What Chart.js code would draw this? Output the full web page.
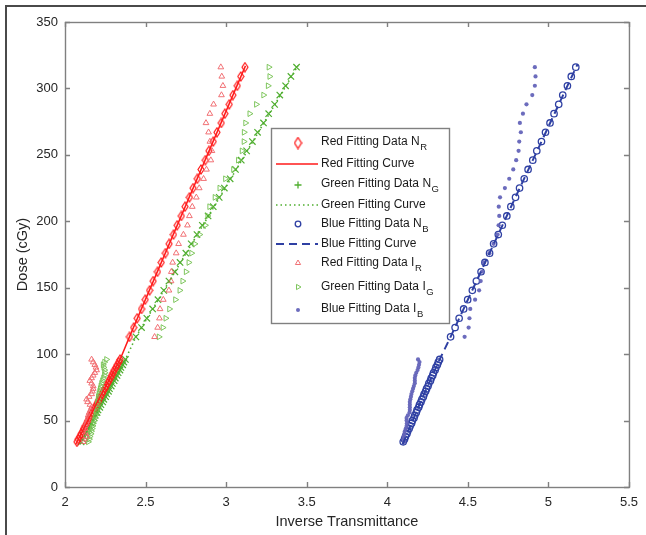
<!DOCTYPE html>
<html>
<head>
<meta charset="utf-8">
<script src="https://cdn.jsdelivr.net/npm/chart.js@4.4.1/dist/chart.umd.min.js"></script>
<style>
  html, body { margin: 0; padding: 0; background: #fff; }
  #wrap { position: relative; width: 646px; height: 535px; overflow: hidden; }
  #frame { position: absolute; left: 5px; top: 5px; width: 700px; height: 600px;
           border-top: 2px solid #4a4a4a; border-left: 2px solid #4a4a4a; pointer-events: none; }
  canvas { position: absolute; left: 0; top: 0; }
</style>
</head>
<body>
<div id="wrap">
  <canvas id="c" width="646" height="535"></canvas>
  <div id="frame"></div>
</div>
<script>
// Dose levels (cGy): fine steps in the low range, coarser steps above.
const dose = [34, 36, 38, 40, 42, 44, 46, 48, 50, 52, 54, 56, 58, 60, 62, 64,
  66, 68, 70, 72, 74, 76, 78, 80, 82, 84, 86, 88, 90, 92, 94, 96,
  113, 120, 127, 134, 141, 148, 155, 162, 169, 176, 183, 190, 197, 204, 211,
  218, 225, 232, 239, 246, 253, 260, 267, 274, 281, 288, 295, 302, 309, 316];

// Inverse transmittance, N films
const redN = [2.074, 2.082, 2.092, 2.099, 2.110, 2.116, 2.127, 2.134, 2.144, 2.151, 2.161, 2.168, 2.179, 2.185, 2.196, 2.203,
  2.213, 2.220, 2.231, 2.237, 2.248, 2.255, 2.265, 2.272, 2.283, 2.289, 2.300, 2.306, 2.317, 2.324, 2.334, 2.342,
  2.400, 2.426, 2.448, 2.475, 2.498, 2.525, 2.547, 2.574, 2.597, 2.623, 2.646, 2.673, 2.696, 2.722, 2.745,
  2.772, 2.795, 2.821, 2.844, 2.871, 2.893, 2.920, 2.943, 2.970, 2.992, 3.019, 3.042, 3.069, 3.091, 3.117];
const greenN = [2.100, 2.110, 2.117, 2.128, 2.134, 2.145, 2.152, 2.163, 2.170, 2.181, 2.188, 2.199, 2.205, 2.216, 2.223, 2.234,
  2.241, 2.252, 2.259, 2.270, 2.276, 2.287, 2.294, 2.305, 2.312, 2.323, 2.330, 2.341, 2.347, 2.358, 2.365, 2.375,
  2.440, 2.475, 2.508, 2.544, 2.577, 2.613, 2.645, 2.682, 2.714, 2.750, 2.783, 2.819, 2.852, 2.888, 2.920,
  2.957, 2.989, 3.025, 3.058, 3.094, 3.127, 3.163, 3.195, 3.232, 3.264, 3.301, 3.333, 3.369, 3.402, 3.437];
const blueN = [4.099, 4.107, 4.113, 4.122, 4.127, 4.136, 4.142, 4.151, 4.156, 4.166, 4.171, 4.180, 4.185, 4.195, 4.200, 4.209,
  4.215, 4.224, 4.229, 4.238, 4.244, 4.253, 4.258, 4.268, 4.273, 4.282, 4.287, 4.297, 4.302, 4.311, 4.317, 4.325,
  4.393, 4.421, 4.446, 4.474, 4.499, 4.528, 4.553, 4.582, 4.606, 4.635, 4.660, 4.689, 4.714, 4.742, 4.767,
  4.796, 4.821, 4.850, 4.874, 4.903, 4.928, 4.957, 4.982, 5.010, 5.035, 5.064, 5.089, 5.118, 5.142, 5.170];

// Inverse transmittance, I films
const redI = [2.113, 2.120, 2.134, 2.130, 2.123, 2.125, 2.130, 2.134, 2.140, 2.142, 2.144, 2.150, 2.158, 2.165, 2.155, 2.140,
  2.134, 2.150, 2.165, 2.170, 2.175, 2.175, 2.165, 2.154, 2.165, 2.175, 2.185, 2.196, 2.192, 2.185, 2.175, 2.165,
  2.556, 2.575, 2.586, 2.590, 2.610, 2.645, 2.658, 2.660, 2.668, 2.690, 2.705, 2.735, 2.760, 2.772, 2.790,
  2.815, 2.833, 2.860, 2.878, 2.905, 2.912, 2.899, 2.891, 2.875, 2.899, 2.922, 2.971, 2.980, 2.973, 2.967];
const greenI = [2.144, 2.150, 2.154, 2.160, 2.163, 2.168, 2.172, 2.175, 2.180, 2.185, 2.190, 2.193, 2.196, 2.198, 2.200, 2.203,
  2.205, 2.206, 2.210, 2.214, 2.218, 2.222, 2.226, 2.232, 2.238, 2.244, 2.247, 2.245, 2.240, 2.236, 2.245, 2.257,
  2.583, 2.607, 2.625, 2.648, 2.685, 2.712, 2.730, 2.751, 2.768, 2.785, 2.805, 2.835, 2.870, 2.885, 2.897,
  2.930, 2.960, 2.995, 3.045, 3.075, 3.098, 3.110, 3.111, 3.120, 3.146, 3.187, 3.232, 3.260, 3.270, 3.265];
const blueI = [4.105, 4.100, 4.102, 4.106, 4.109, 4.115, 4.120, 4.122, 4.120, 4.120, 4.128, 4.138, 4.140, 4.140, 4.140, 4.140,
  4.143, 4.147, 4.150, 4.155, 4.160, 4.165, 4.171, 4.171, 4.171, 4.174, 4.180, 4.188, 4.193, 4.197, 4.200, 4.191,
  4.480, 4.505, 4.510, 4.515, 4.545, 4.570, 4.580, 4.588, 4.600, 4.634, 4.660, 4.685, 4.691, 4.695, 4.692,
  4.700, 4.730, 4.757, 4.782, 4.800, 4.815, 4.819, 4.829, 4.823, 4.842, 4.864, 4.900, 4.916, 4.920, 4.916];

// Fitted calibration curves
const redFitX   = [2.066, 2.205, 2.342, 2.400, 2.760, 3.120];
const redFitY   = [32, 65, 96, 113, 215, 317];
const greenFitX = [2.093, 2.236, 2.375, 2.440, 2.940, 3.445];
const greenFitY = [32, 65, 96, 113, 214, 317];
const blueFitX  = [4.095, 4.210, 4.325, 4.393, 4.780, 5.180];
const blueFitY  = [32, 65, 96, 113, 214, 318];

const xTicks = [2, 2.5, 3, 3.5, 4, 4.5, 5, 5.5];
const yTicks = [0, 50, 100, 150, 200, 250, 300, 350];

// Legend text: main label and subscript
const legendNames = ['Red Fitting Data N', 'Red Fitting Curve', 'Green Fitting Data N', 'Green Fitting Curve',
  'Blue Fitting Data N', 'Blue Fitting Curve', 'Red Fitting Data I', 'Green Fitting Data I', 'Blue Fitting Data I'];
const legendSubs = ['R', '', 'G', '', 'B', '', 'R', 'G', 'B'];

const FONT = '"Liberation Sans", Arial, sans-serif';
const TEXT = '#262626';
const AXIS = '#808080';

const C_RED = '#ff1a1a', C_RED_L = 'rgba(240,105,110,0.95)';
const C_GRN = '#4fae2f', C_GRN_L = 'rgba(120,195,85,0.95)';
const C_BLU = '#2f40a3', C_BLU_L = 'rgba(100,100,185,0.95)';

const pts = (xs, ys) => xs.map((v, i) => ({ x: v, y: ys[i] }));

// tall open diamond marker
function diamondMarker(color, w, h, lw) {
  const c = document.createElement('canvas');
  c.width = w; c.height = h;
  const g = c.getContext('2d');
  g.strokeStyle = color; g.lineWidth = lw;
  g.beginPath();
  g.moveTo(w / 2, 1); g.lineTo(w - 1, h / 2); g.lineTo(w / 2, h - 1); g.lineTo(1, h / 2); g.closePath();
  g.stroke();
  return c;
}
const diamond = diamondMarker(C_RED, 8, 11, 1.2);
const diamondKey = diamondMarker(C_RED, 9, 13, 1.3);

const markerSet = (style, color, r, extra) => Object.assign({
  showLine: false, pointStyle: style, pointRadius: r, pointHoverRadius: r,
  pointBorderColor: color, pointBackgroundColor: 'rgba(0,0,0,0)', pointBorderWidth: 1
}, extra || {});

const datasets = [
  Object.assign({ label: legendNames[0], data: pts(redN, dose), order: 7 }, markerSet(diamond, C_RED, 5)),
  { label: legendNames[1], data: pts(redFitX, redFitY), showLine: true, borderColor: C_RED, borderWidth: 1.5,
    pointRadius: 0, order: 2 },
  Object.assign({ label: legendNames[2], data: pts(greenN, dose), order: 8 }, markerSet('crossRot', C_GRN, 4.5, { pointBorderWidth: 1.2 })),
  { label: legendNames[3], data: pts(greenFitX, greenFitY), showLine: true, borderColor: C_GRN, borderWidth: 1.6,
    borderDash: [1.5, 3], pointRadius: 0, order: 1 },
  Object.assign({ label: legendNames[4], data: pts(blueN, dose), order: 9 }, markerSet('circle', C_BLU, 3.2, { pointBorderWidth: 1.3 })),
  { label: legendNames[5], data: pts(blueFitX, blueFitY), showLine: true, borderColor: C_BLU, borderWidth: 2,
    borderDash: [8, 5], pointRadius: 0, order: 0 },
  Object.assign({ label: legendNames[6], data: pts(redI, dose), order: 4 }, markerSet('triangle', C_RED_L, 3.3)),
  Object.assign({ label: legendNames[7], data: pts(greenI, dose), order: 5 }, markerSet('triangle', C_GRN_L, 3.3, { pointRotation: 90 })),
  Object.assign({ label: legendNames[8], data: pts(blueI, dose), order: 3 }, markerSet('circle', C_BLU_L, 2.1,
    { pointBackgroundColor: C_BLU_L, pointBorderWidth: 0 }))
];

// plot box with inward ticks on all four sides
const boxTicks = {
  id: 'boxTicks',
  afterDatasetsDraw(chart) {
    const { ctx, chartArea: a, scales: { x, y } } = chart;
    ctx.save();
    ctx.strokeStyle = AXIS; ctx.lineWidth = 1.4;
    ctx.beginPath();
    xTicks.forEach(v => {
      const px = Math.round(x.getPixelForValue(v)) + 0.5;
      ctx.moveTo(px, a.bottom); ctx.lineTo(px, a.bottom - 5);
      ctx.moveTo(px, a.top); ctx.lineTo(px, a.top + 5);
    });
    yTicks.forEach(v => {
      const py = Math.round(y.getPixelForValue(v)) + 0.5;
      ctx.moveTo(a.left, py); ctx.lineTo(a.left + 5, py);
      ctx.moveTo(a.right, py); ctx.lineTo(a.right - 5, py);
    });
    ctx.stroke();
    ctx.strokeRect(a.left + 0.5, a.top + 0.5, a.right - a.left, a.bottom - a.top);
    ctx.restore();
  }
};

// key box inside the plot
const keyBox = {
  id: 'keyBox',
  afterDraw(chart) {
    const ctx = chart.ctx;
    const L = 271, T = 128, R = 449, B = 323;
    const rowY = [142, 164, 184, 205, 224, 244, 263, 287, 309];
    const mx = 298, tx = 321;
    ctx.save();
    ctx.fillStyle = '#fff';
    ctx.fillRect(L, T, R - L, B - T);
    ctx.strokeStyle = AXIS; ctx.lineWidth = 1.4;
    ctx.strokeRect(L + 0.5, T + 0.5, R - L, B - T);

    const line = (y, color, w, dash) => {
      ctx.save(); ctx.strokeStyle = color; ctx.lineWidth = w; ctx.setLineDash(dash);
      ctx.beginPath(); ctx.moveTo(276, y); ctx.lineTo(318, y); ctx.stroke(); ctx.restore();
    };
    const tri = (x, y, r, rot, color) => {
      ctx.save(); ctx.translate(x, y); ctx.rotate(rot); ctx.strokeStyle = color; ctx.lineWidth = 1;
      ctx.beginPath();
      for (let k = 0; k < 3; k++) {
        const ang = k * 2 * Math.PI / 3;
        const px = Math.sin(ang) * r, py = -Math.cos(ang) * r;
        k ? ctx.lineTo(px, py) : ctx.moveTo(px, py);
      }
      ctx.closePath(); ctx.stroke(); ctx.restore();
    };

    // markers / line samples
    ctx.drawImage(diamondKey, mx - diamondKey.width / 2, rowY[0] - diamondKey.height / 2 + 1);
    line(rowY[1], C_RED, 1.5, []);
    ctx.save(); ctx.strokeStyle = C_GRN; ctx.lineWidth = 1.3; ctx.beginPath();
    ctx.moveTo(mx - 3.5, rowY[2] + 1); ctx.lineTo(mx + 3.5, rowY[2] + 1);
    ctx.moveTo(mx, rowY[2] - 2.5); ctx.lineTo(mx, rowY[2] + 4.5); ctx.stroke(); ctx.restore();
    line(rowY[3], C_GRN, 1.6, [1.5, 3]);
    ctx.save(); ctx.strokeStyle = C_BLU; ctx.lineWidth = 1.3; ctx.beginPath();
    ctx.arc(mx, rowY[4], 2.8, 0, Math.PI * 2); ctx.stroke(); ctx.restore();
    line(rowY[5], C_BLU, 2, [8, 5]);
    tri(mx, rowY[6], 3, 0, C_RED_L);
    tri(mx, rowY[7], 3, Math.PI / 2, C_GRN_L);
    ctx.save(); ctx.fillStyle = C_BLU_L; ctx.beginPath(); ctx.arc(mx, rowY[8] + 1, 2, 0, Math.PI * 2); ctx.fill(); ctx.restore();

    // labels with subscripts
    ctx.fillStyle = '#1a1a1a';
    ctx.textBaseline = 'middle';
    ctx.textAlign = 'left';
    legendNames.forEach((name, i) => {
      ctx.font = '12px ' + FONT;
      ctx.fillText(name, tx, rowY[i]);
      if (legendSubs[i]) {
        const w = ctx.measureText(name).width;
        ctx.font = '9.5px ' + FONT;
        ctx.fillText(legendSubs[i], tx + w + 0.5, rowY[i] + 5);
      }
    });
    ctx.restore();
  }
};

new Chart(document.getElementById('c'), {
  type: 'scatter',
  data: { datasets },
  options: {
    responsive: false,
    animation: false,
    devicePixelRatio: 1,
    layout: { padding: { left: 0, right: 14, top: 22, bottom: 0 } },
    plugins: { legend: { display: false }, tooltip: { enabled: false } },
    scales: {
      x: {
        type: 'linear', min: 2, max: 5.5,
        afterBuildTicks(s) { s.ticks = xTicks.map(v => ({ value: v })); },
        ticks: { color: TEXT, font: { family: FONT, size: 13 }, padding: 8, maxRotation: 0, autoSkip: false,
                 callback: v => String(v) },
        grid: { display: false, drawTicks: false },
        border: { display: false },
        title: { display: true, text: 'Inverse Transmittance', color: TEXT,
                 font: { family: FONT, size: 14.5 }, padding: { top: 0, bottom: 4 } },
        afterFit(s) { s.height = 48; }
      },
      y: {
        type: 'linear', min: 0, max: 350,
        afterBuildTicks(s) { s.ticks = yTicks.map(v => ({ value: v })); },
        ticks: { color: TEXT, font: { family: FONT, size: 13 }, padding: 7, callback: v => String(v) },
        grid: { display: false, drawTicks: false },
        border: { display: false },
        title: { display: true, text: 'Dose (cGy)', color: TEXT,
                 font: { family: FONT, size: 14.5 }, padding: { top: 14, bottom: 0 } },
        afterFit(s) { s.width = 65; }
      }
    }
  },
  plugins: [boxTicks, keyBox]
});
</script>
</body>
</html>
